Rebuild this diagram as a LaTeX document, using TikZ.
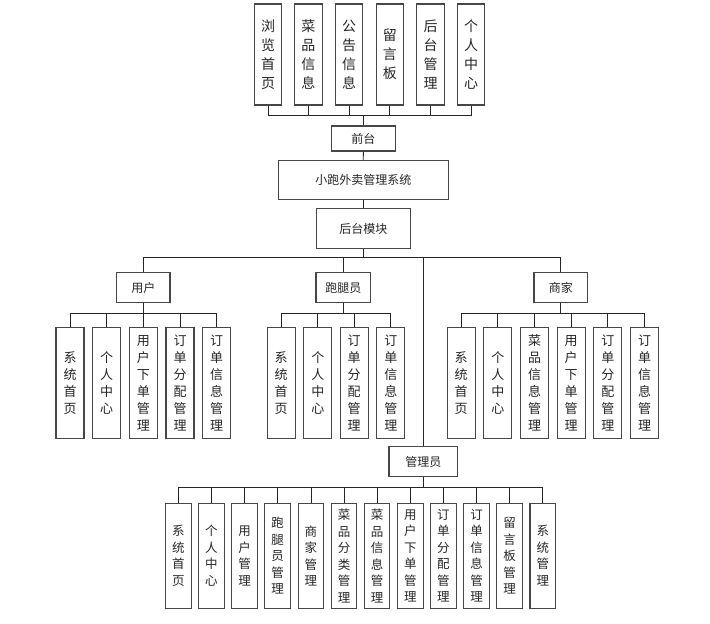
\documentclass[tikz,border=0pt]{standalone}
\usepackage{fontspec}
\setmainfont{Noto Sans CJK SC}
\begin{document}
\begin{tikzpicture}[x=1pt,y=-1pt,
  box/.style={draw=black!72,line width=1.1pt,fill=white,inner sep=0pt,align=center,text=black!85},
  hbox/.style={box,font=\fontsize{12}{14}\selectfont},
  topbox/.style={box,minimum width=27.4,minimum height=101,font=\fontsize{14}{19}\selectfont},
  midbox/.style={box,minimum width=28,minimum height=110.6,font=\fontsize{13}{17}\selectfont},
  lowbox/.style={box,minimum width=25.6,minimum height=105,font=\fontsize{12.5}{16.5}\selectfont},
  conn/.style={draw=black!85,line width=0.8pt}]
\useasboundingbox (0,0) rectangle (710,624);
% top level
\node[topbox] (t1) at (268,54.5) {浏\\览\\首\\页};
\node[topbox] (t2) at (308.4,54.5) {菜\\品\\信\\息};
\node[topbox] (t3) at (349,54.5) {公\\告\\信\\息};
\node[topbox] (t4) at (389.8,54.5) {留\\言\\板};
\node[topbox] (t5) at (430.5,54.5) {后\\台\\管\\理};
\node[topbox] (t6) at (471,54.5) {个\\人\\中\\心};
\node[hbox,minimum width=63.3,minimum height=25] (qt) at (363.4,138.5) {前台};
\node[hbox,minimum width=170,minimum height=38.6] (sys) at (363.3,180) {小跑外卖管理系统};
\node[hbox,minimum width=94,minimum height=39.6] (ht) at (363.3,228.5) {后台模块};
\foreach \i in {1,...,6} {\draw[conn] (qt.north) -- ++(0,-10.3) -| (t\i.south);}
\draw[conn] (qt.south) -- (sys.north);
\draw[conn] (sys.south) -- (ht.north);
% second level
\node[hbox,minimum width=53.3,minimum height=29.6] (yh) at (143.3,287.5) {用户};
\node[hbox,minimum width=54.7,minimum height=30] (pt) at (343.3,287.7) {跑腿员};
\node[hbox,minimum width=53.7,minimum height=30] (sj) at (560.8,287.7) {商家};
\node[hbox,minimum width=68.7,minimum height=30] (gl) at (423.3,461.7) {管理员};
\foreach \n in {yh,pt,sj,gl} {\draw[conn] (ht.south) -- ++(0,8.8) -| (\n.north);}
% user children
\node[midbox] (u1) at (70,383) {系\\统\\首\\页};
\node[midbox] (u2) at (106.7,383) {个\\人\\中\\心};
\node[midbox] (u3) at (143.3,383) {用\\户\\下\\单\\管\\理};
\node[midbox] (u4) at (180,383) {订\\单\\分\\配\\管\\理};
\node[midbox] (u5) at (216.7,383) {订\\单\\信\\息\\管\\理};
\foreach \i in {1,...,5} {\draw[conn] (yh.south) -- ++(0,10.7) -| (u\i.north);}
% runner children
\node[midbox] (p1) at (281.2,383) {系\\统\\首\\页};
\node[midbox] (p2) at (317.8,383) {个\\人\\中\\心};
\node[midbox] (p3) at (354.2,383) {订\\单\\分\\配\\管\\理};
\node[midbox] (p4) at (390.8,383) {订\\单\\信\\息\\管\\理};
\foreach \i in {1,...,4} {\draw[conn] (pt.south) -- ++(0,10.3) -| (p\i.north);}
% merchant children
\node[midbox] (s1) at (461.2,383) {系\\统\\首\\页};
\node[midbox] (s2) at (497.8,383) {个\\人\\中\\心};
\node[midbox] (s3) at (534.5,383) {菜\\品\\信\\息\\管\\理};
\node[midbox] (s4) at (571.2,383) {用\\户\\下\\单\\管\\理};
\node[midbox] (s5) at (607.8,383) {订\\单\\分\\配\\管\\理};
\node[midbox] (s6) at (644.5,383) {订\\单\\信\\息\\管\\理};
\foreach \i in {1,...,6} {\draw[conn] (sj.south) -- ++(0,10.3) -| (s\i.north);}
% admin children
\node[lowbox] (a1) at (178.3,555.8) {系\\统\\首\\页};
\node[lowbox] (a2) at (211.4,555.8) {个\\人\\中\\心};
\node[lowbox] (a3) at (244.6,555.8) {用\\户\\管\\理};
\node[lowbox] (a4) at (277.7,555.8) {跑\\腿\\员\\管\\理};
\node[lowbox] (a5) at (310.9,555.8) {商\\家\\管\\理};
\node[lowbox] (a6) at (344,555.8) {菜\\品\\分\\类\\管\\理};
\node[lowbox] (a7) at (377.1,555.8) {菜\\品\\信\\息\\管\\理};
\node[lowbox] (a8) at (410.3,555.8) {用\\户\\下\\单\\管\\理};
\node[lowbox] (a9) at (443.4,555.8) {订\\单\\分\\配\\管\\理};
\node[lowbox] (a10) at (476.6,555.8) {订\\单\\信\\息\\管\\理};
\node[lowbox] (a11) at (509.7,555.8) {留\\言\\板\\管\\理};
\node[lowbox] (a12) at (542.8,555.8) {系\\统\\管\\理};
\foreach \i in {1,...,12} {\draw[conn] (gl.south) -- ++(0,10.6) -| (a\i.north);}
\end{tikzpicture}
\end{document}
